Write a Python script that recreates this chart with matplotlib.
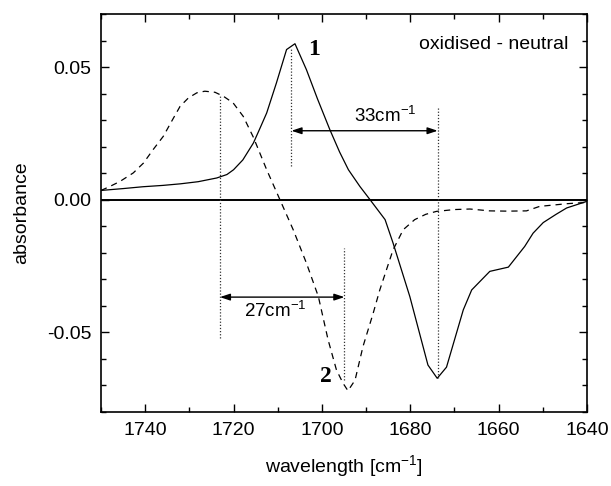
import matplotlib
matplotlib.use("Agg")
import matplotlib.pyplot as plt
from matplotlib.ticker import MultipleLocator

plt.rcParams['font.family'] = ['Liberation Sans', 'DejaVu Sans']
plt.rcParams['mathtext.default'] = 'regular'

# solid curve
solid_x = [1750, 1745, 1740.5, 1736, 1732, 1728, 1723.8, 1721.5, 1720, 1717.9, 1715.5, 1714,
           1712.5, 1710.3, 1708, 1706.1,
           1703.5, 1701, 1698.2, 1696, 1694, 1691.4, 1689.1, 1685.7, 1683.9, 1680.1, 1676, 1673.9,
           1671.8, 1668, 1666.1, 1662, 1657.8, 1654.1, 1652.2, 1649.9, 1647, 1644.6, 1640]
solid_y = [0.0035, 0.0042, 0.0049, 0.0054, 0.0060, 0.0068, 0.0082, 0.0095, 0.0113, 0.0150,
           0.0214, 0.0270, 0.0327, 0.0440, 0.0566, 0.0588,
           0.0490, 0.0380, 0.0264, 0.0180, 0.0113, 0.0050, 0.0000, -0.0075, -0.0163, -0.0365,
           -0.0623, -0.0673, -0.0631, -0.0415, -0.0340, -0.0270, -0.0254, -0.0176, -0.0126,
           -0.0086, -0.0055, -0.0031, -0.0006]

# dashed curve
dash_x = [1750, 1748, 1745.7, 1742.7, 1740.4, 1738.2, 1735.9, 1734, 1732.1, 1730.2, 1728.3,
          1726.5, 1724.2, 1722.3, 1720.1, 1717.8, 1715.5, 1712.5, 1709.5, 1706.5, 1703.5,
          1700.8, 1698.6, 1696.7, 1695.2, 1694.1, 1692.5, 1690.7, 1688.4, 1686.9, 1683.9,
          1681.6, 1679, 1676.5, 1674.1, 1670, 1666.5, 1662, 1658, 1653.7, 1650.7, 1647, 1644.6, 1640]
dash_y = [0.0035, 0.0050, 0.0069, 0.0101, 0.0138, 0.0189, 0.0239, 0.0296, 0.0352, 0.0384, 0.0403,
          0.0409, 0.0405, 0.0390, 0.0365, 0.0314, 0.0235, 0.0113, 0.0000, -0.0113, -0.0239,
          -0.0365, -0.0528, -0.0642, -0.0692, -0.0720, -0.0680, -0.0553, -0.0428, -0.0340, -0.0189,
          -0.0113, -0.0075, -0.0055, -0.0044, -0.0037, -0.0035, -0.0042, -0.0043, -0.0042, -0.0025,
          -0.0019, -0.0015, -0.0010]

# dotted vertical markers: (x, y_top, y_bottom)
vline_x = [1706.9, 1673.8, 1723.1, 1694.9]
vline_top = [0.057, 0.035, 0.0396, -0.0182]
vline_bot = [0.0126, -0.067, -0.0522, -0.068]

# double arrows: (x_start, x_end, y)
arrow_x1 = [1706.9, 1723.1]
arrow_x2 = [1673.8, 1694.9]
arrow_y = [0.026, -0.0367]
arrow_text = ["33cm$^{-1}$", "27cm$^{-1}$"]
arrow_text_x = [1685.7, 1710.6]
arrow_text_y = [0.0314, -0.042]

fig = plt.figure(figsize=(6.11, 4.86), dpi=100)
ax = fig.add_axes([101/611, 1-412/486, (587-101)/611, (412-14)/486])

ax.plot(solid_x, solid_y, color='black', lw=0.9)
ax.plot(dash_x, dash_y, color='black', lw=0.9, linestyle=(0, (5, 4)))
ax.axhline(0, color='black', lw=1.4)

for x, yt, yb in zip(vline_x, vline_top, vline_bot):
    ax.plot([x, x], [yb, yt], color='#333333', lw=0.9, linestyle=(0, (1, 1.5)))

for x1, x2, y in zip(arrow_x1, arrow_x2, arrow_y):
    ax.annotate('', xy=(x2, y), xytext=(x1, y),
                arrowprops=dict(arrowstyle='<|-|>,head_length=0.6,head_width=0.2',
                                color='black', lw=1.0, shrinkA=0, shrinkB=0))
for t, x, y in zip(arrow_text, arrow_text_x, arrow_text_y):
    ax.text(x, y, t, fontsize=13.5, ha='center', va='center')

ax.text(1701.8, 0.0565, '1', fontsize=17, fontweight='bold', family='Liberation Serif',
        ha='center', va='center')
ax.text(1699.1, -0.0665, '2', fontsize=17, fontweight='bold', family='Liberation Serif',
        ha='center', va='center')
ax.text(1644.2, 0.0585, 'oxidised - neutral', fontsize=14, ha='right', va='center')

ax.set_xlim(1750, 1640)
ax.set_ylim(-0.08, 0.07)
ax.xaxis.set_minor_locator(MultipleLocator(10))
ax.yaxis.set_minor_locator(MultipleLocator(0.01))
ax.set_yticks([-0.05, 0.0, 0.05])
ax.set_yticklabels(['-0.05', '0.00', '0.05'])
ax.set_xticks([1740, 1720, 1700, 1680, 1660, 1640])
ax.tick_params(which='both', direction='in', top=True, right=True, labelsize=14, width=1.0)
ax.tick_params(which='major', length=6, pad=7)
ax.tick_params(which='minor', length=3.5)
for s in ax.spines.values():
    s.set_linewidth(1.2)

ax.set_xlabel('wavelength [cm$^{-1}$]', fontsize=14, labelpad=10)
ax.set_ylabel('absorbance', fontsize=14, labelpad=12)

fig.savefig('out.png', dpi=100)
